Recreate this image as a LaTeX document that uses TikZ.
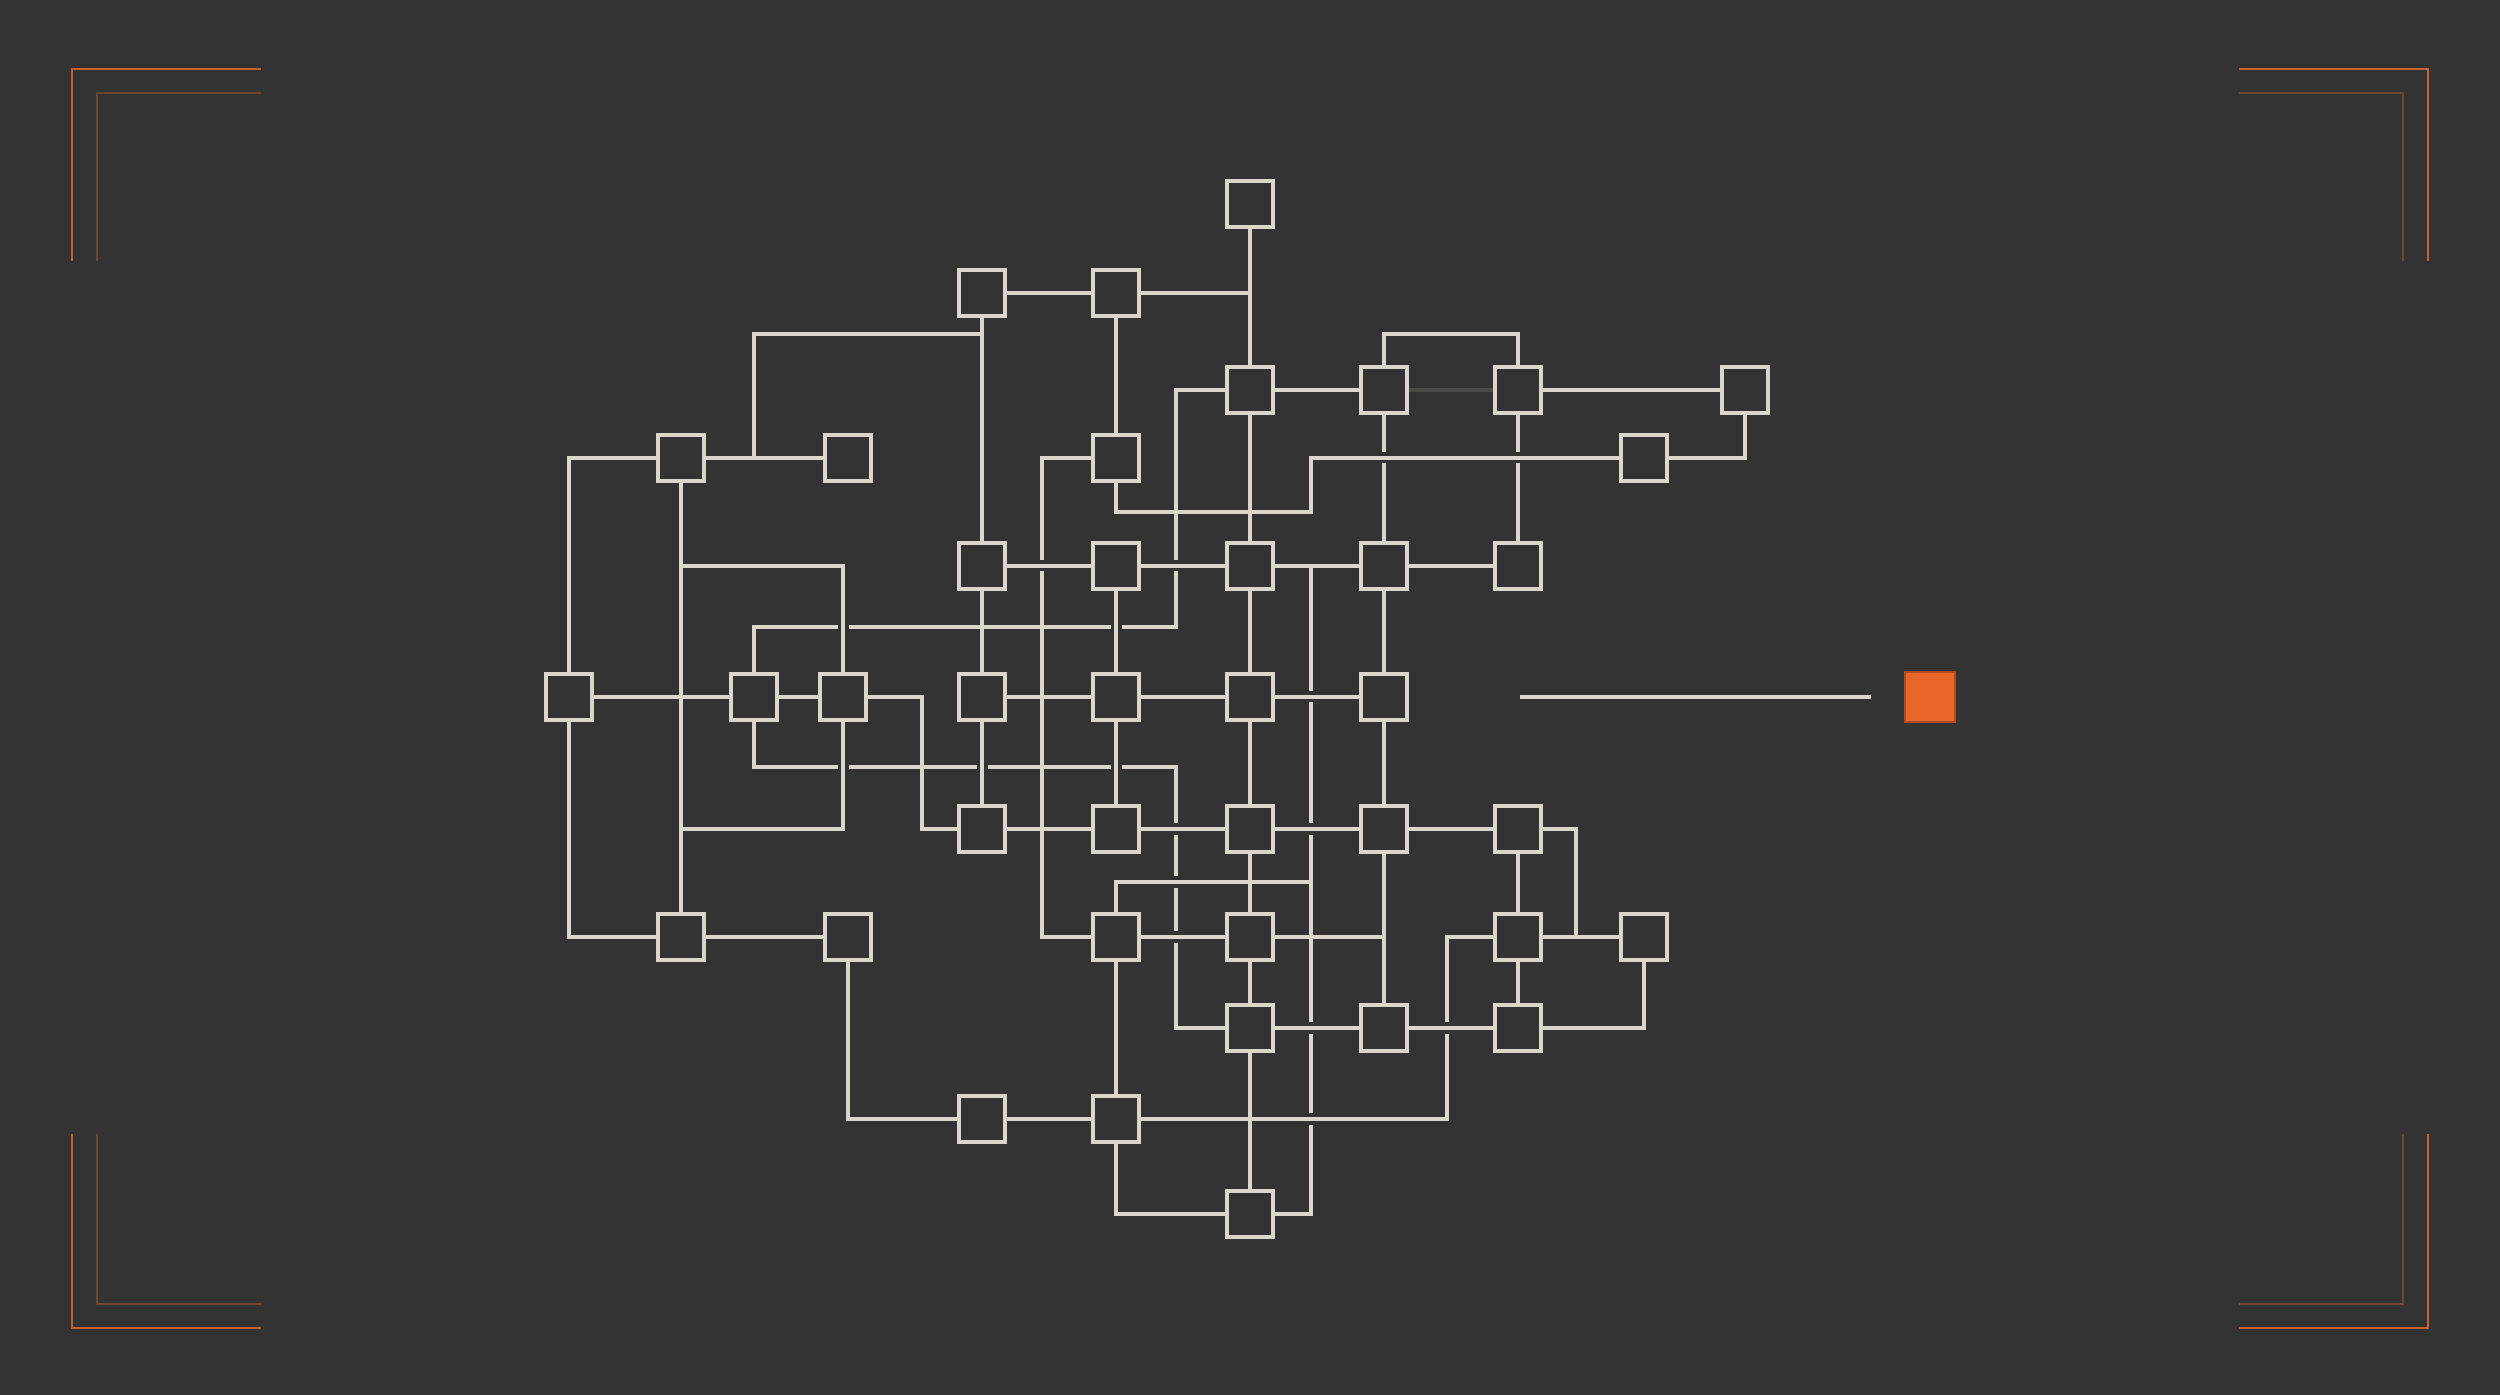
\documentclass[tikz,border=0pt]{standalone}
\usepackage{tikz}

\definecolor{bg}{HTML}{323332}
\definecolor{wirecol}{HTML}{DAD6CC}
\definecolor{accent}{HTML}{E8662A}
\definecolor{brackethi}{HTML}{C4622E}
\definecolor{bracketlo}{HTML}{6E4632}

% line hops: the crossing line is broken, the other passes over it
\newcommand{\cutv}[2]{\draw[wire,preaction={draw=bg,line width=0.11cm}] (#1-9,#2) -- (#1+9,#2);}
\newcommand{\cuth}[2]{\draw[wire,preaction={draw=bg,line width=0.11cm}] (#1,#2-9) -- (#1,#2+9);}

\begin{document}
\begin{tikzpicture}[x=0.01cm,y=-0.01cm,
    wire/.style={draw=wirecol,line width=0.037cm},
    box/.style={rectangle,draw=wirecol,fill=bg,line width=0.037cm,minimum size=0.46cm,inner sep=0pt},
    goal/.style={rectangle,fill=accent,draw=accent!75!black,line width=0.015cm,minimum size=0.5cm,inner sep=0pt}]

  \fill[bg] (0,0) rectangle (2500,1395);

  % corner brackets
  \begin{scope}[line width=0.025cm]
    \draw[brackethi] (72,261) -- (72,69) -- (261,69);
    \draw[bracketlo] (97,261) -- (97,93) -- (261,93);
    \draw[brackethi] (2239,69) -- (2428,69) -- (2428,261);
    \draw[bracketlo] (2239,93) -- (2403,93) -- (2403,261);
    \draw[brackethi] (72,1134) -- (72,1328) -- (261,1328);
    \draw[bracketlo] (97,1134) -- (97,1304) -- (261,1304);
    \draw[brackethi] (2239,1328) -- (2428,1328) -- (2428,1134);
    \draw[bracketlo] (2239,1304) -- (2403,1304) -- (2403,1134);
  \end{scope}

  \begin{scope}[every node/.style={box}]
    \node (g0)  at (1250,204)  {};
    \node (e1)  at (982,293)   {};
    \node (f1)  at (1116,293)  {};
    \node (g2)  at (1250,390)  {};
    \node (h2)  at (1384,390)  {};
    \node (i2)  at (1518,390)  {};
    \node (k2)  at (1745,390)  {};
    \node (b3)  at (681,458)   {};
    \node (d3)  at (848,458)   {};
    \node (f3)  at (1116,458)  {};
    \node (j3)  at (1644,458)  {};
    \node (e4)  at (982,566)   {};
    \node (f4)  at (1116,566)  {};
    \node (g4)  at (1250,566)  {};
    \node (h4)  at (1384,566)  {};
    \node (i4)  at (1518,566)  {};
    \node (a5)  at (569,697)   {};
    \node (c5)  at (754,697)   {};
    \node (d5)  at (843,697)   {};
    \node (e5)  at (982,697)   {};
    \node (f5)  at (1116,697)  {};
    \node (g5)  at (1250,697)  {};
    \node (h5)  at (1384,697)  {};
    \node (e6)  at (982,829)   {};
    \node (f6)  at (1116,829)  {};
    \node (g6)  at (1250,829)  {};
    \node (h6)  at (1384,829)  {};
    \node (i6)  at (1518,829)  {};
    \node (b7)  at (681,937)   {};
    \node (d7)  at (848,937)   {};
    \node (f7)  at (1116,937)  {};
    \node (g7)  at (1250,937)  {};
    \node (i7)  at (1518,937)  {};
    \node (j7)  at (1644,937)  {};
    \node (g8)  at (1250,1028) {};
    \node (h8)  at (1384,1028) {};
    \node (i8)  at (1518,1028) {};
    \node (e9)  at (982,1119)  {};
    \node (f9)  at (1116,1119) {};
    \node (g10) at (1250,1214) {};
  \end{scope}

  \node[goal] (goal) at (1930,697) {};
  \coordinate (tail) at (1520,697);

  % routing levels
  \coordinate (xa) at (922,0);
  \coordinate (xb) at (1042,0);
  \coordinate (xc) at (1176,0);
  \coordinate (xd) at (1311,0);
  \coordinate (xe) at (1447,0);
  \coordinate (xf) at (1576,0);
  \coordinate (ya) at (0,334);
  \coordinate (yb) at (0,512);
  \coordinate (yc) at (0,627);
  \coordinate (yd) at (0,767);
  \coordinate (ye) at (0,882);

  \begin{scope}[every edge/.style={wire}]
    \path (g0) edge (g2);
    \path (e1) edge (f1);
    \path (f1) edge (f3);
    \path (e1) edge (e4);
    \path (b3) edge (d3);
    \path (b3) edge (b7);
    \path (a5) edge (c5);
    \path (c5) edge (d5);
    \path (g2) edge (h2);
    \path (i2) edge (k2);
    \path (e4) edge (f4);
    \path (f4) edge (g4);
    \path (g4) edge (h4);
    \path (h4) edge (i4);
    \path (e5) edge (f5);
    \path (f5) edge (g5);
    \path (g5) edge (h5);
    \path (e6) edge (f6);
    \path (f6) edge (g6);
    \path (g6) edge (h6);
    \path (h6) edge (i6);
    \path (g2) edge (g4);
    \path (g4) edge (g5);
    \path (g5) edge (g6);
    \path (g6) edge (g7);
    \path (g7) edge (g8);
    \path (g8) edge (g10);
    \path (h2) edge (h4);
    \path (h4) edge (h5);
    \path (h5) edge (h6);
    \path (h6) edge (h8);
    \path (i2) edge (i4);
    \path (i6) edge (i7);
    \path (i7) edge (i8);
    \path (e4) edge (e5);
    \path (e5) edge (e6);
    \path (f4) edge (f5);
    \path (f5) edge (f6);
    \path (f7) edge (f9);
    \path (f7) edge (g7);
    \path (g8) edge (h8);
    \path (h8) edge (i8);
    \path (i7) edge (j7);
    \path (e9) edge (f9);
    \path (b7) edge (d7);
  \end{scope}

  \path (h2) edge[wire,opacity=0.15] (i2);

  \draw[wire] (f1) -- (f1 -| g0);
  \draw[wire] (b3 -| c5) |- (e1 |- ya);
  \draw[wire] (a5) |- (b3);
  \draw[wire] (a5) |- (b7);
  \draw[wire] (d5) |- (b3 |- e4);
  \draw[wire] (d5) |- (b3 |- e6);
  \draw[wire] (d5) -| (xa |- e6) -- (e6);
  \draw[wire] (c5) |- (xc |- yc) |- (g2);
  \draw[wire] (c5) |- (xc |- yd) |- (g8);
  \draw[wire] (f3) -| (xb |- f7) -- (f7);
  \draw[wire] (f3) |- (xd |- yb) |- (j3);
  \draw[wire] (j3) -| (k2);
  \draw[wire] (h2) |- (i2 |- ya) -- (i2);
  \draw[wire] (xd |- e4) |- (g10);
  \draw[wire] (f7) |- (xd |- ye);
  \draw[wire] (g7) -- (h6 |- g7);
  \draw[wire] (i6) -| (xf |- i7);
  \draw[wire] (j7) |- (i8);
  \draw[wire] (i7) -| (xe |- f9) -- (f9);
  \draw[wire] (d7) |- (e9);
  \draw[wire] (f9) |- (g10);
  \draw[wire,shorten >=0.33cm] (tail) -- (goal);

  % hops
  \cutv{1042}{566}
  \cutv{1176}{566}
  \cutv{1384}{458}
  \cutv{1518}{458}
  \cutv{1176}{829}
  \cutv{1176}{882}
  \cutv{1176}{937}
  \cutv{1311}{697}
  \cutv{1311}{829}
  \cutv{1311}{1028}
  \cutv{1311}{1119}
  \cutv{1447}{1028}
  \cuth{843}{627}
  \cuth{1116}{627}
  \cuth{843}{767}
  \cuth{982}{767}
  \cuth{1116}{767}

\end{tikzpicture}
\end{document}
